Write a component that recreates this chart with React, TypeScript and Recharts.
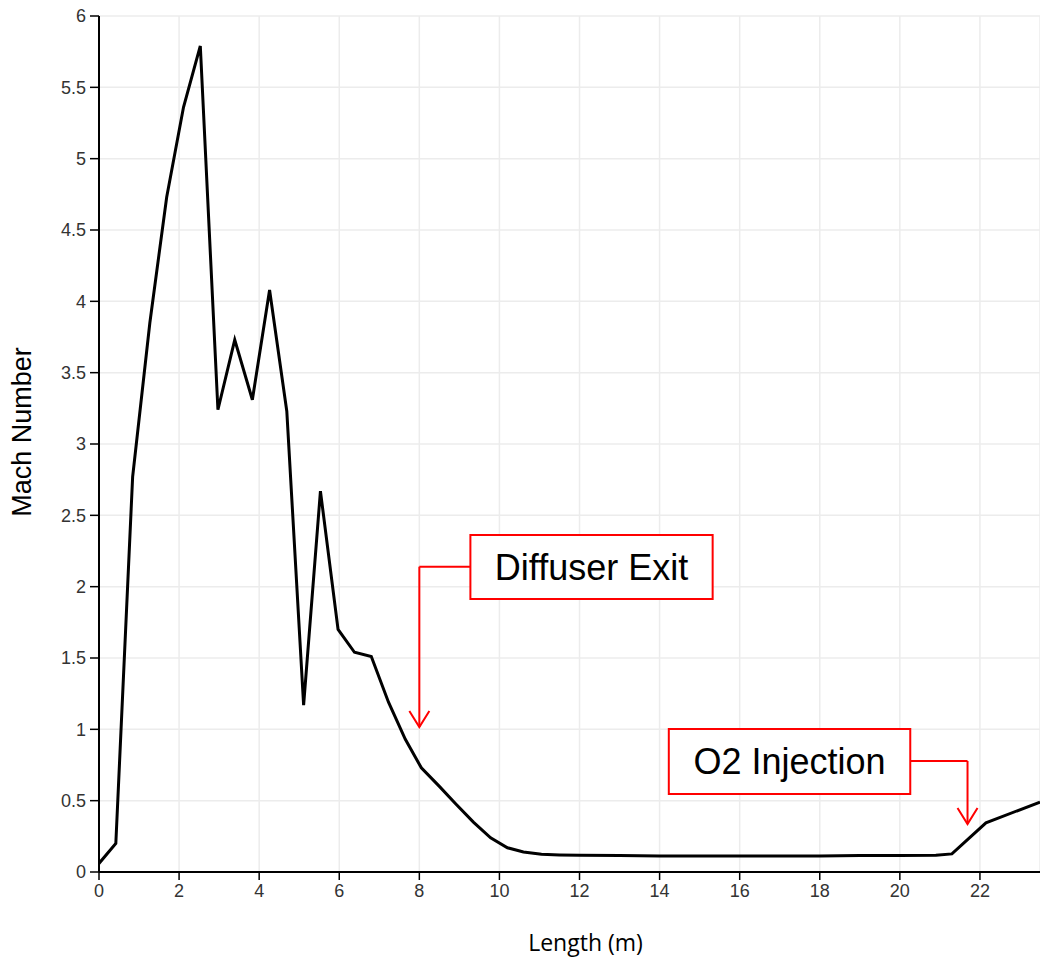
import React from 'react';
import {
  LineChart,
  Line,
  XAxis,
  YAxis,
  CartesianGrid,
  ReferenceArea,
  ReferenceLine,
  ReferenceDot,
  Label,
} from 'recharts';

// ---- data ----
const lengthM = [
  0, 0.42, 0.84, 1.27, 1.69, 2.11, 2.53, 2.97, 3.39, 3.83, 4.26, 4.69, 5.11, 5.53, 5.97, 6.38, 6.8,
  7.23, 7.65, 8.05, 8.5, 8.9, 9.35, 9.78, 10.2, 10.6, 11.05, 11.5, 12, 13, 14, 15, 16, 17, 18, 19,
  20, 20.9, 21.3, 22.15, 23.5,
];
const machNumber = [
  0.06, 0.2, 2.77, 3.85, 4.73, 5.36, 5.79, 3.24, 3.73, 3.31, 4.08, 3.23, 1.17, 2.67, 1.7, 1.54, 1.51,
  1.19, 0.93, 0.73, 0.6, 0.48, 0.35, 0.24, 0.17, 0.14, 0.125, 0.12, 0.117, 0.115, 0.113, 0.113,
  0.113, 0.113, 0.113, 0.115, 0.115, 0.117, 0.127, 0.345, 0.49,
];
const xTicks = [0, 2, 4, 6, 8, 10, 12, 14, 16, 18, 20, 22];
const yTicks = [0, 0.5, 1, 1.5, 2, 2.5, 3, 3.5, 4, 4.5, 5, 5.5, 6];

// annotation: [label, box x1, box x2, box y1, box y2, connector y, arrow x, arrow tip y]
const annoLabels = ['Diffuser Exit', 'O2 Injection'];
const annoBoxX1 = [9.275, 14.23];
const annoBoxX2 = [15.325, 20.26];
const annoBoxYLow = [1.913, 0.547];
const annoBoxYHigh = [2.362, 1.002];
const annoConnY = [2.14, 0.778];
const annoArrowX = [8.0, 21.69];
const annoTipY = [1.016, 0.336];

const data = lengthM.map((x, i) => ({ x, mach: machNumber[i] }));

const RED = '#ff0000';

const ArrowHead = (props: any) => {
  const { cx, cy } = props;
  if (cx == null || cy == null) return null;
  return (
    <path
      d={`M${cx - 10},${cy - 16} L${cx},${cy} L${cx + 10},${cy - 16}`}
      stroke={RED}
      strokeWidth={2}
      fill="none"
    />
  );
};

export default function App() {
  return (
    <div style={{ position: 'absolute', left: 0, top: 0, background: '#fff' }}>
      <LineChart
        width={1040}
        height={960}
        data={data}
        margin={{ top: 16, right: 0, bottom: 0, left: 0 }}
      >
        <CartesianGrid stroke="#ececec" strokeWidth={1.5} />
        <XAxis
          type="number"
          dataKey="x"
          domain={[0, 23.5]}
          ticks={xTicks}
          allowDataOverflow
          height={88}
          tickSize={8}
          tickMargin={4}
          axisLine={{ stroke: '#000', strokeWidth: 2 }}
          tickLine={{ stroke: '#000', strokeWidth: 1.5 }}
          tick={{ fontSize: 18, fill: '#333', fontFamily: 'Liberation Sans, Arial, sans-serif' }}
        >
          <Label
            content={(p: any) => {
              const vb = p.viewBox || { x: 99, width: 941, y: 872, height: 88 };
              return (
                <text
                  x={vb.x + vb.width / 2 + 16}
                  y={vb.y + vb.height - 9}
                  textAnchor="middle"
                  fontSize={23}
                  fontFamily="Open Sans, sans-serif"
                  fill="#000"
                >
                  Length (m)
                </text>
              );
            }}
          />
        </XAxis>
        <YAxis
          type="number"
          domain={[0, 6]}
          ticks={yTicks}
          width={99}
          tickSize={9}
          tickMargin={4}
          interval={0}
          axisLine={{ stroke: '#000', strokeWidth: 2 }}
          tickLine={{ stroke: '#000', strokeWidth: 1.5 }}
          tick={{ fontSize: 18, fill: '#333', fontFamily: 'Liberation Sans, Arial, sans-serif' }}
        >
          <Label
            content={(p: any) => {
              const vb = p.viewBox || { x: 0, width: 99, y: 16, height: 856 };
              const cx = vb.x + 22;
              const cy = vb.y + vb.height / 2 - 12;
              return (
                <text
                  x={cx}
                  y={cy}
                  transform={`rotate(-90, ${cx}, ${cy})`}
                  textAnchor="middle"
                  dominantBaseline="central"
                  fontSize={27}
                  fontFamily="Liberation Sans, Arial, sans-serif"
                  fill="#000"
                >
                  Mach Number
                </text>
              );
            }}
          />
        </YAxis>

        {annoLabels.map((lab, i) => (
          <ReferenceArea
            key={'box' + i}
            x1={annoBoxX1[i]}
            x2={annoBoxX2[i]}
            y1={annoBoxYLow[i]}
            y2={annoBoxYHigh[i]}
            fill="#fff"
            fillOpacity={1}
            stroke={RED}
            strokeWidth={2}
            strokeOpacity={1}
            label={{
              value: lab,
              position: 'center',
              fill: '#000',
              fontSize: 36,
              fontFamily: 'Liberation Sans, Arial, sans-serif',
            }}
          />
        ))}
        {annoLabels.map((lab, i) => (
          <ReferenceLine
            key={'h' + i}
            segment={[
              { x: i === 0 ? annoArrowX[i] : annoBoxX2[i], y: annoConnY[i] },
              { x: i === 0 ? annoBoxX1[i] : annoArrowX[i], y: annoConnY[i] },
            ]}
            stroke={RED}
            strokeWidth={2}
          />
        ))}
        {annoLabels.map((lab, i) => (
          <ReferenceLine
            key={'v' + i}
            segment={[
              { x: annoArrowX[i], y: annoConnY[i] },
              { x: annoArrowX[i], y: annoTipY[i] },
            ]}
            stroke={RED}
            strokeWidth={2}
          />
        ))}
        {annoLabels.map((lab, i) => (
          <ReferenceDot
            key={'a' + i}
            x={annoArrowX[i]}
            y={annoTipY[i]}
            r={1}
            shape={ArrowHead}
          />
        ))}

        <Line
          type="linear"
          dataKey="mach"
          stroke="#000"
          strokeWidth={3}
          dot={false}
          activeDot={false}
          isAnimationActive={false}
        />
      </LineChart>
    </div>
  );
}
